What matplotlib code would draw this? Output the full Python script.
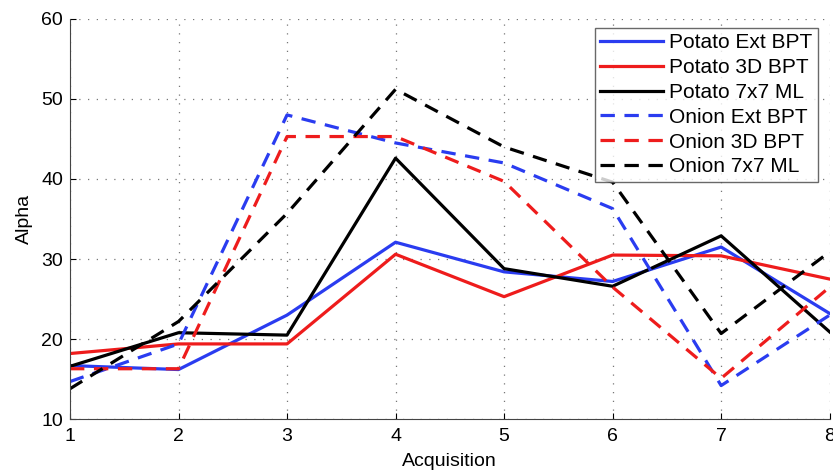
import matplotlib
matplotlib.use("Agg")
import matplotlib.pyplot as plt

plt.rcParams['font.family'] = ['Liberation Sans', 'DejaVu Sans']

acquisition = [1, 2, 3, 4, 5, 6, 7, 8]
potato_ext_bpt = [16.7, 16.2, 23.0, 32.1, 28.4, 27.2, 31.5, 23.2]
potato_3d_bpt = [18.2, 19.4, 19.4, 30.6, 25.3, 30.5, 30.4, 27.5]
potato_7x7_ml = [16.6, 20.8, 20.5, 42.6, 28.8, 26.6, 32.9, 20.9]
onion_ext_bpt = [14.7, 19.4, 48.0, 44.5, 42.0, 36.3, 14.2, 23.0]
onion_3d_bpt = [16.3, 16.3, 45.3, 45.3, 39.7, 26.5, 15.1, 26.5]
onion_7x7_ml = [13.8, 22.2, 35.7, 51.2, 44.0, 39.6, 20.7, 30.9]

labels = ["Potato Ext BPT", "Potato 3D BPT", "Potato 7x7 ML",
          "Onion Ext BPT", "Onion 3D BPT", "Onion 7x7 ML"]
series = [potato_ext_bpt, potato_3d_bpt, potato_7x7_ml,
          onion_ext_bpt, onion_3d_bpt, onion_7x7_ml]
colors = ["#2a3cf0", "#ee1c1c", "#000000", "#2a3cf0", "#ee1c1c", "#000000"]
styles = ["-", "-", "-", "--", "--", "--"]

fig = plt.figure(figsize=(8.33, 4.71), dpi=100)
ax = fig.add_axes([0.084, 0.110, 0.912, 0.850])

for y, lab, c, ls in zip(series, labels, colors, styles):
    line, = ax.plot(acquisition, y, color=c, linestyle=ls, linewidth=2.3, label=lab)
    if ls == "--":
        line.set_dashes((4.5, 3))

ax.set_xlim(1, 8)
ax.set_ylim(10, 60)
ax.set_xticks(acquisition)
ax.set_yticks([10, 20, 30, 40, 50, 60])
ax.grid(True, linestyle=(0, (1, 6)), color="#777777", linewidth=0.9)
ax.tick_params(direction="in", length=4, labelsize=14, width=0.8)
ax.tick_params(axis="x", pad=6)
ax.tick_params(axis="y", pad=5)
for s in ["top", "right"]:
    ax.spines[s].set_visible(False)
for s in ["left", "bottom"]:
    ax.spines[s].set_color("#444444")
ax.set_xlabel("Acquisition", fontsize=14, labelpad=6)
ax.set_ylabel("Alpha", fontsize=14, labelpad=6)

leg = ax.legend(loc="upper right", bbox_to_anchor=(0.984, 0.977), fontsize=15,
                frameon=True, fancybox=False, edgecolor="#444444",
                handlelength=3.0, handletextpad=0.3, labelspacing=0.28,
                borderpad=0.25, borderaxespad=0)
leg.get_frame().set_linewidth(1.0)

fig.savefig("out.png", dpi=100)
